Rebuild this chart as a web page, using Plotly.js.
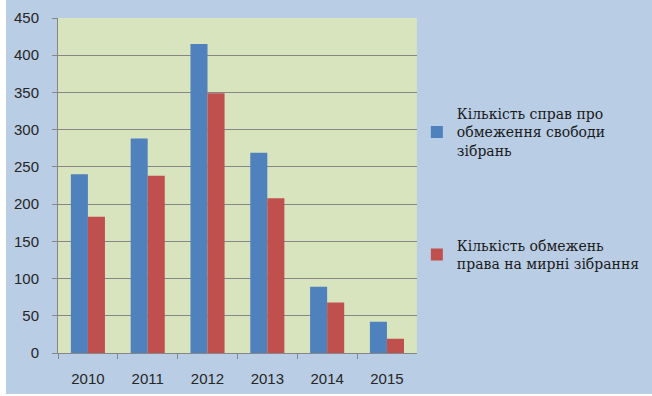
<!DOCTYPE html>
<html>
<head>
<meta charset="utf-8">
<script src="https://cdn.plot.ly/plotly-3.0.1.min.js"></script>
<style>
html,body{margin:0;padding:0;background:#ffffff;}
#chart{position:absolute;left:6px;top:0;width:646px;height:394px;}
</style>
</head>
<body>
<div id="chart"></div>
<script>
var years = ['2010','2011','2012','2013','2014','2015'];
var casesAssembly = [240, 288, 415, 269, 89, 42];
var restrictionsPeaceful = [183, 238, 349, 208, 68, 19];
var seriesNames = [
  'Кількість справ про<br>обмеження свободи<br>зібрань',
  'Кількість обмежень<br>права на мирні зібрання'
];
var yTicks = [0, 50, 100, 150, 200, 250, 300, 350, 400, 450];

var traces = [
  {type:'bar', x:years, y:casesAssembly, name:seriesNames[0], legendgroup:'a',
   marker:{color:'#4F81BD'}},
  {type:'bar', x:years, y:restrictionsPeaceful, name:seriesNames[1], legendgroup:'b',
   marker:{color:'#C0504D'}}
];

var layout = {
  width:646, height:394,
  paper_bgcolor:'#B9CDE5',
  plot_bgcolor:'#D7E4BD',
  margin:{l:52, r:234, t:18, b:41},
  barmode:'group',
  bargap:0.43,
  bargroupgap:0,
  font:{family:'Liberation Sans, Arial, sans-serif', size:15, color:'#262626'},
  xaxis:{
    type:'category',
    showline:true, linecolor:'#868686', linewidth:1,
    ticks:'outside', tickson:'boundaries', ticklen:5, tickcolor:'#868686',
    showgrid:false,
    tickfont:{size:15, color:'#262626'},
    ticklabelstandoff:12
  },
  yaxis:{
    range:[0,450],
    tickvals:yTicks,
    showline:true, linecolor:'#868686', linewidth:1,
    ticks:'outside', ticklen:5, tickcolor:'#868686',
    showgrid:true, gridcolor:'#868686', gridwidth:1,
    zeroline:false,
    tickfont:{size:15, color:'#262626'},
    ticklabelstandoff:10
  },
  showlegend:true,
  legend:{
    xref:'container', yref:'container',
    x:0.636, xanchor:'left',
    y:0.751, yanchor:'top',
    bgcolor:'rgba(0,0,0,0)',
    font:{family:'DejaVu Serif, serif', size:14, color:'#1a1a1a'},
    tracegroupgap:74,
    itemwidth:30,
    traceorder:'grouped'
  }
};

Plotly.newPlot('chart', traces, layout, {displayModeBar:false, staticPlot:true});
</script>
</body>
</html>
